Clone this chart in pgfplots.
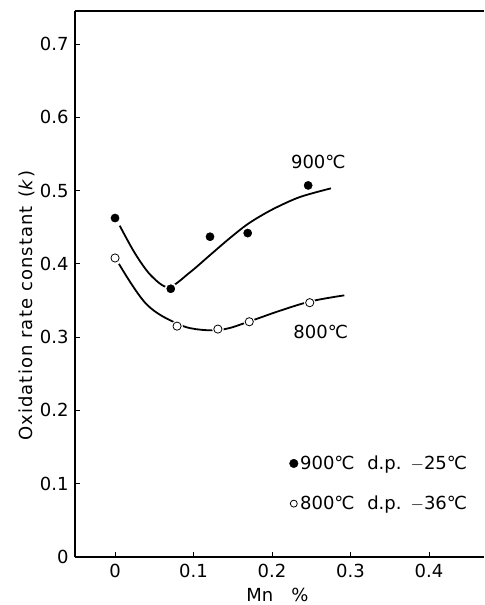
\documentclass[border=0pt]{standalone}
\usepackage{fontspec}
\setmainfont{DejaVu Sans}
\newcommand\degC{℃}
\usepackage{pgfplots}
\pgfplotsset{compat=1.18}
\begin{document}
\begin{tikzpicture}[font=\fontsize{18}{21}\selectfont]
\begin{axis}[
  scale only axis, width=409pt, height=546pt,
  xmin=-0.051, xmax=0.47, ymin=0, ymax=0.745,
  axis x line=box, axis y line=left,
  axis line style={-, line width=1.2pt},
  xtick={0,0.1,0.2,0.3,0.4}, ytick={0,0.1,...,0.7},
  xtick pos=bottom, ytick pos=left,
  tick align=inside, major tick length=5pt,
  tick style={line width=0.8pt, black},
  /pgf/number format/assume math mode=true,
  every tick label/.append style={font=\fontsize{18}{21}\selectfont},
  label style={font=\fontsize{18}{21}\selectfont},
  xticklabel style={/pgf/number format/fixed, /pgf/number format/precision=1, yshift=-4pt},
  yticklabel style={xshift=-3pt},
  yticklabel={\pgfmathprintnumber[fixed,precision=1]{\tick}},
  xlabel={Mn\hspace{1em}\%},
  ylabel={\addfontfeatures{LetterSpace=6}Oxidation rate constant\hspace{0.5em}(\textit{k})},
  xlabel style={at={(axis description cs:0.495,-0.069)}, anchor=center},
  ylabel style={at={(axis description cs:-0.118,0.46)}, anchor=center},
  legend style={at={(axis cs:0.222,0.141)}, anchor=north west, draw=none, fill=none,
    font=\fontsize{18}{21}\selectfont, row sep=21pt, inner sep=0pt},
  legend cell align=left,
  legend image code/.code={\draw[#1] plot coordinates {(0.1cm,0cm)};},
]
\addplot[black, line width=1.8pt, smooth, tension=0.5, forget plot] coordinates {
 (0.006,0.452) (0.025,0.415) (0.045,0.385) (0.068,0.368) (0.095,0.388) (0.12,0.411) (0.145,0.434) (0.17,0.455) (0.2,0.474) (0.235,0.491) (0.275,0.503)};
\addplot[black, line width=1.8pt, smooth, tension=0.6, forget plot] coordinates {
 (0.005,0.400) (0.04,0.345) (0.08,0.318) (0.11,0.310) (0.14,0.311) (0.17,0.321) (0.21,0.336) (0.25,0.349) (0.292,0.357)};
\addplot[only marks, mark=*, mark size=5.4pt, mark options={fill=black, draw=white, line width=1.6pt}, forget plot] coordinates {
 (0,0.4625) (0.071,0.366) (0.121,0.437) (0.169,0.442) (0.246,0.507)};
\addplot[only marks, mark=*, mark size=5.6pt, mark options={fill=white, draw=white}, forget plot] coordinates {
 (0,0.408) (0.079,0.315) (0.131,0.311) (0.171,0.321) (0.248,0.347)};
\addplot[only marks, mark=*, mark size=4.1pt, mark options={fill=white, draw=black, line width=0.8pt}, forget plot] coordinates {
 (0,0.408) (0.079,0.315) (0.131,0.311) (0.171,0.321) (0.248,0.347)};
\addlegendimage{only marks, mark=*, mark size=4.3pt, mark options={fill=black, draw=black}}
\addlegendentry{900\degC\hspace{0.7em}d.p.\hspace{0.5em}$-$25\degC}
\addlegendimage{only marks, mark=*, mark size=3.5pt, mark options={fill=white, draw=black, line width=0.8pt}}
\addlegendentry{800\degC\hspace{0.7em}d.p.\hspace{0.5em}$-$36\degC}
\node at (axis cs:0.259,0.539) {900\degC};
\node at (axis cs:0.262,0.307) {800\degC};
\end{axis}
\useasboundingbox (current axis.south west) ++(-75pt,-48pt) rectangle ([yshift=11pt]current axis.north east);
\end{tikzpicture}
\end{document}
